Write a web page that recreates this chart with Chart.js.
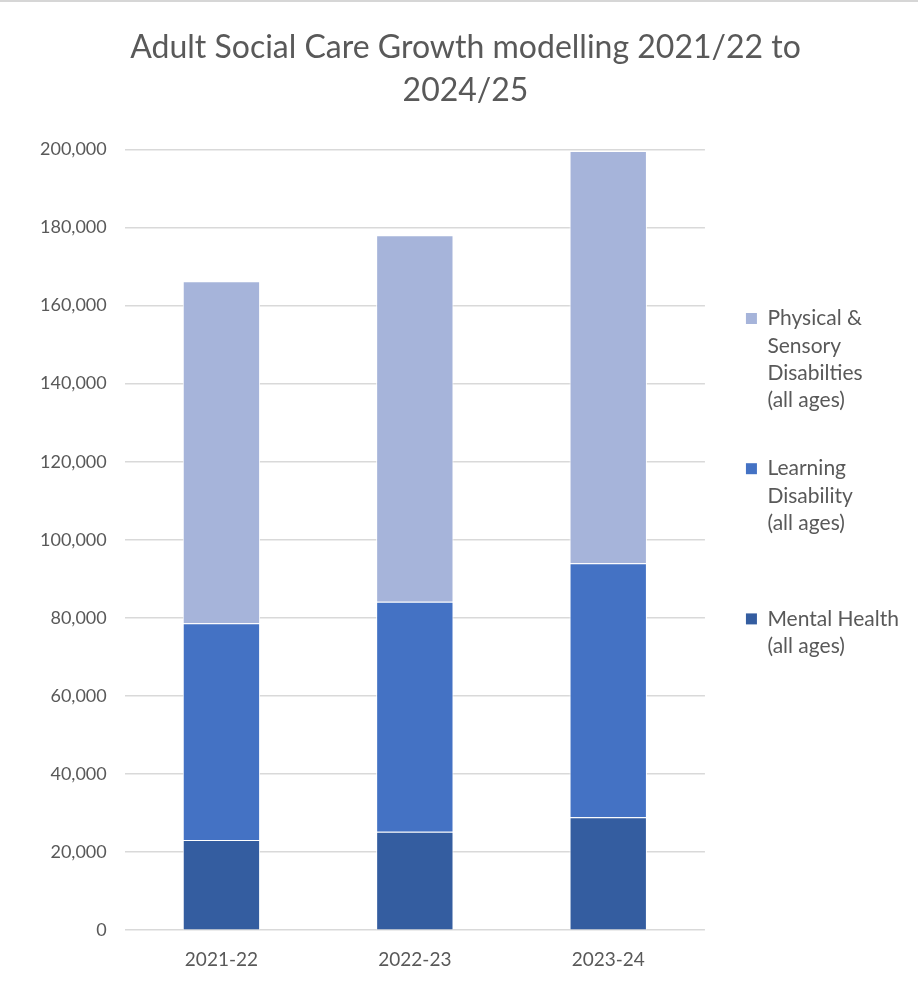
<!DOCTYPE html>
<html>
<head>
<meta charset="utf-8">
<script src="https://cdn.jsdelivr.net/npm/chart.js@4.4.0/dist/chart.umd.min.js"></script>
<style>
  html, body { margin: 0; padding: 0; background: #fff; overflow: hidden; }
  #wrap { width: 918px; height: 988px; position: relative; box-sizing: border-box; border-top: 2px solid #d6d6d6; }
  canvas { display: block; }
</style>
</head>
<body>
<div id="wrap"><canvas id="chart" width="918" height="986"></canvas></div>
<script>
// Dados
const years = ['2021-22', '2022-23', '2023-24'];
const mentalHealth = [23100, 25200, 28900];
const learningDisability = [55500, 58900, 65100];
const physicalSensory = [87600, 93900, 105600];

const titleLines = ['Adult Social Care Growth modelling 2021/22 to', '2024/25'];
const legendTexts = [
    ['Physical &', 'Sensory', 'Disabilties', '(all ages)'],
    ['Learning', 'Disability', '(all ages)', ''],
    ['Mental Health', '(all ages)']
];

const grey = '#595959';
const fontFamily = 'Lato, "Open Sans", sans-serif';

const ctx = document.getElementById('chart').getContext('2d');
new Chart(ctx, {
    type: 'bar',
    data: {
        labels: years,
        datasets: [{
            label: 'Mental Health (all ages)',
            data: mentalHealth,
            backgroundColor: '#345DA0',
            borderColor: '#ffffff',
            borderWidth: 1,
            barPercentage: 0.8,
            categoryPercentage: 0.5
        }, {
            label: 'Learning Disability (all ages)',
            data: learningDisability,
            backgroundColor: '#4472C4',
            borderColor: '#ffffff',
            borderWidth: 1,
            barPercentage: 0.8,
            categoryPercentage: 0.5
        }, {
            label: 'Physical & Sensory Disabilties (all ages)',
            data: physicalSensory,
            backgroundColor: '#A6B4DA',
            borderColor: '#ffffff',
            borderWidth: 1,
            barPercentage: 0.8,
            categoryPercentage: 0.5
        }]
    },
    options: {
        responsive: false,
        animation: false,
        devicePixelRatio: 1,
        layout: { padding: { left: 22, right: 9, top: 24, bottom: 7 } },
        plugins: {
            title: {
                display: true,
                text: titleLines,
                color: grey,
                font: { family: fontFamily, size: 32, weight: 'normal', lineHeight: 1.35 },
                padding: { top: 0, bottom: 37 }
            },
            legend: {
                position: 'right',
                align: 'start',
                // título vazio só para empurrar os itens para baixo
                title: {
                    display: true,
                    text: '',
                    font: { size: 10, lineHeight: 1 },
                    padding: { top: 0, bottom: 231 }
                },
                labels: {
                    color: grey,
                    font: { family: fontFamily, size: 21, lineHeight: 1.3 },
                    boxWidth: 11,
                    boxHeight: 11,
                    padding: 41,
                    generateLabels: function(chart) {
                        // ordem invertida, como no Excel
                        const ds = chart.data.datasets;
                        return [2, 1, 0].map((i, k) => ({
                            text: legendTexts[k],
                            fillStyle: ds[i].backgroundColor,
                            strokeStyle: ds[i].backgroundColor,
                            lineWidth: 0,
                            fontColor: grey,
                            hidden: false,
                            datasetIndex: i
                        }));
                    }
                }
            },
            tooltip: { enabled: false }
        },
        scales: {
            x: {
                stacked: true,
                grid: { display: false },
                border: { display: false },
                ticks: { color: grey, font: { family: fontFamily, size: 19 }, padding: 10 }
            },
            y: {
                stacked: true,
                min: 0,
                max: 200000,
                ticks: {
                    stepSize: 20000,
                    color: grey,
                    font: { family: fontFamily, size: 18 },
                    padding: 18,
                    callback: v => v.toLocaleString('en-GB')
                },
                grid: { color: '#d9d9d9', lineWidth: 1.5, drawTicks: false },
                border: { display: false }
            }
        }
    }
});
</script>
</body>
</html>
